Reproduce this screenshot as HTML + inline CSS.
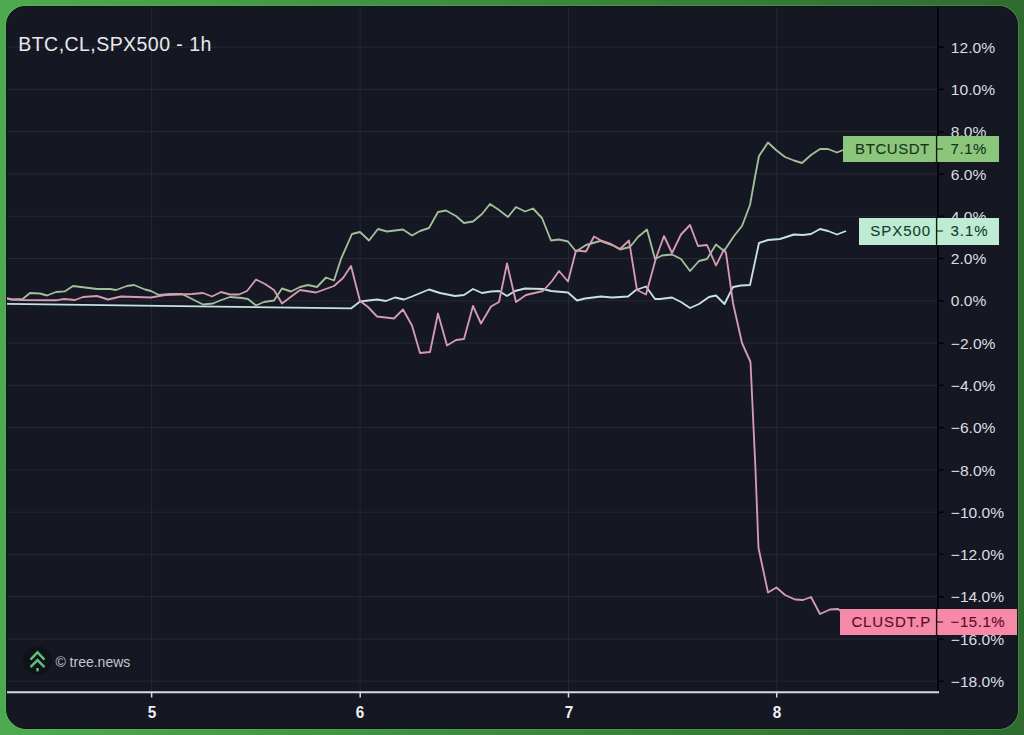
<!DOCTYPE html>
<html><head><meta charset="utf-8"><style>
html,body{margin:0;padding:0;}
body{width:1024px;height:735px;overflow:hidden;position:relative;background:linear-gradient(90deg,#4dab4f 0%,#3d8d3f 45%,#2f6b30 100%);font-family:"Liberation Sans",sans-serif;}
#panel{position:absolute;left:6px;top:6px;width:1012px;height:723px;border-radius:19px 19px 19px 20px;background:#151822;overflow:hidden;box-sizing:border-box;border:1px solid #041a0c;box-shadow:0 0 0 1px rgba(150,170,150,0.28);}
#inner{margin:-1px;}
#inner{position:absolute;left:-6px;top:-6px;width:1024px;height:735px;}
svg{position:absolute;left:0;top:0;}
.title{position:absolute;left:18.3px;top:32.8px;font-size:19.5px;letter-spacing:0.45px;color:#e9e9ee;white-space:nowrap;}
.yl{position:absolute;left:950.8px;height:19px;line-height:19px;font-size:15.6px;color:#dcdde2;white-space:nowrap;transform:scaleY(0.94);}
.xl{position:absolute;top:703.2px;width:40px;text-align:center;font-size:16.6px;font-weight:bold;color:#f0f0f3;transform:scaleX(0.92);}
.tag{position:absolute;height:26px;line-height:26px;font-size:15px;letter-spacing:0.55px;white-space:nowrap;box-sizing:border-box;}
.tl{text-align:right;padding-right:6.5px;-webkit-text-stroke:0.1px currentColor;}
.tr{padding-left:13.3px;-webkit-text-stroke:0.1px currentColor;}
.logo{position:absolute;left:22.5px;top:645.5px;width:29px;height:29px;border-radius:50%;background:#0f1217;}
.wm{position:absolute;left:55.4px;top:654px;font-size:14px;color:#c5c6cc;white-space:nowrap;}
</style></head><body>
<div id="panel"><div id="inner">
<svg width="1024" height="735" viewBox="0 0 1024 735">
<line x1="6" y1="47.2" x2="937" y2="47.2" stroke="#252833" stroke-width="1"/><line x1="6" y1="89.4" x2="937" y2="89.4" stroke="#252833" stroke-width="1"/><line x1="6" y1="131.7" x2="937" y2="131.7" stroke="#252833" stroke-width="1"/><line x1="6" y1="174.0" x2="937" y2="174.0" stroke="#252833" stroke-width="1"/><line x1="6" y1="216.3" x2="937" y2="216.3" stroke="#252833" stroke-width="1"/><line x1="6" y1="258.5" x2="937" y2="258.5" stroke="#252833" stroke-width="1"/><line x1="6" y1="300.8" x2="937" y2="300.8" stroke="#252833" stroke-width="1"/><line x1="6" y1="343.1" x2="937" y2="343.1" stroke="#252833" stroke-width="1"/><line x1="6" y1="385.3" x2="937" y2="385.3" stroke="#252833" stroke-width="1"/><line x1="6" y1="427.6" x2="937" y2="427.6" stroke="#252833" stroke-width="1"/><line x1="6" y1="469.9" x2="937" y2="469.9" stroke="#252833" stroke-width="1"/><line x1="6" y1="512.2" x2="937" y2="512.2" stroke="#252833" stroke-width="1"/><line x1="6" y1="554.4" x2="937" y2="554.4" stroke="#252833" stroke-width="1"/><line x1="6" y1="596.7" x2="937" y2="596.7" stroke="#252833" stroke-width="1"/><line x1="6" y1="639.0" x2="937" y2="639.0" stroke="#252833" stroke-width="1"/><line x1="6" y1="681.2" x2="937" y2="681.2" stroke="#252833" stroke-width="1"/><line x1="151.6" y1="6" x2="151.6" y2="691" stroke="#252833" stroke-width="1"/><line x1="360.2" y1="6" x2="360.2" y2="691" stroke="#252833" stroke-width="1"/><line x1="568.5" y1="6" x2="568.5" y2="691" stroke="#252833" stroke-width="1"/><line x1="776.7" y1="6" x2="776.7" y2="691" stroke="#252833" stroke-width="1"/>
<polyline points="6,303.8 351,308.4 360,301.5 377,299.5 386,301 395,297.5 404,299.5 412,296.5 429,289.5 440,293 455,296 464,295 473,289 482,293 491,291.5 499,291 507,296 515,291 525,288.5 543,289 551,291 568,292.5 577,300.5 585,298.5 601,296.5 612,297.5 628,296.5 636,290 646,286.5 655,299 660,299 672,297.5 681,302 690,308 699,304 709,297 716,295.5 724.5,304 733,287 741,285.5 750,285 759,243 768,240 780,239 794,234.5 803,235 811,234 820,229 828,231 837,234.5 846,231" fill="none" stroke="#c6e2dc" stroke-width="1.85" stroke-linejoin="round"/>
<polyline points="6,298.5 12,299.5 23,298.8 30,293 40,293.5 47,295.5 56,292 65,291.3 73,286 85,287.5 97,289 110,289 116,290 127,286 134,285 145,289.5 151,291 159,295 170,294 182,294 190,298 203,304.5 213,303.5 220,300.5 230,297 242,298 248,299 256,305.5 264,302 274,300.5 282,288.5 291,291.5 300,287 308,285 317,287 326,277.5 334,280.5 341,259 352,234 360,232 369,240.5 378,229 387,231.5 403,229.5 412,235.5 420,231 429,228 438,212 446,210.5 456,216 464,223 473,221.5 482,214 490,204 499,210 508,217 516,207 525,211.5 533,208.5 542,218 551,240.5 559,239.5 568,241.5 576,251.5 586,245 600,241 614,246 620,249.5 630,247 638,237 647,229.5 655,259 662,255.5 672,254.5 681,259 690,271 699,261 707,259 716,244.5 724,251 734,236 742,226 750,205 755,177 759,156 768,142.5 776,150 785,157 794,160.5 802,163 811,155 820,149 828,149 837,152.5 843,150" fill="none" stroke="#a2bf9b" stroke-width="1.85" stroke-linejoin="round"/>
<polyline points="6,298 12,299.5 23,300 57,300.2 64,299 75,300 83,297 97,296 108,299.5 121,296.5 151,297.5 165,295 180,294.5 192,294 203,293 212,296.5 221,292 230,294.5 239,294.5 247,291 256,279.5 265,284 274,290 282,303.5 290,297.5 300,290 316,292.5 334,286 343,278 351,266 360,301 368,307 377,316.5 394,318.5 403,309.5 412,325.5 420,353 430,352 438,313.5 447,345.5 456,340 464,339 473,306 481,323.5 491,306.5 499,302 507,263.5 516,302 526,295 543,291 552,281 559,271 568,281.5 576,250.5 586,251.5 594,236.5 602,241 611,244 620,249 629,240.5 637,290 646,294.5 656,258 664,236 672,253 681,234.5 690,225 698,246 707,245 716,265.5 724,249.5 726,253 733,303 742,343 750.5,362 755.5,470 758.5,548 768,592.5 776.5,587.5 785,595 795,599.5 803,600 811,597 820,614 830,609.5 838,609 842,612" fill="none" stroke="#d69ab5" stroke-width="1.85" stroke-linejoin="round"/>
<line x1="938" y1="0" x2="938" y2="693" stroke="#06070c" stroke-width="2"/>
<line x1="0" y1="692.2" x2="939" y2="692.2" stroke="#d9dadf" stroke-width="2"/>
<line x1="938" y1="47.2" x2="944" y2="47.2" stroke="#020306" stroke-width="1.4"/><line x1="938" y1="89.4" x2="944" y2="89.4" stroke="#020306" stroke-width="1.4"/><line x1="938" y1="131.7" x2="944" y2="131.7" stroke="#020306" stroke-width="1.4"/><line x1="938" y1="174.0" x2="944" y2="174.0" stroke="#020306" stroke-width="1.4"/><line x1="938" y1="216.3" x2="944" y2="216.3" stroke="#020306" stroke-width="1.4"/><line x1="938" y1="258.5" x2="944" y2="258.5" stroke="#020306" stroke-width="1.4"/><line x1="938" y1="300.8" x2="944" y2="300.8" stroke="#020306" stroke-width="1.4"/><line x1="938" y1="343.1" x2="944" y2="343.1" stroke="#020306" stroke-width="1.4"/><line x1="938" y1="385.3" x2="944" y2="385.3" stroke="#020306" stroke-width="1.4"/><line x1="938" y1="427.6" x2="944" y2="427.6" stroke="#020306" stroke-width="1.4"/><line x1="938" y1="469.9" x2="944" y2="469.9" stroke="#020306" stroke-width="1.4"/><line x1="938" y1="512.2" x2="944" y2="512.2" stroke="#020306" stroke-width="1.4"/><line x1="938" y1="554.4" x2="944" y2="554.4" stroke="#020306" stroke-width="1.4"/><line x1="938" y1="596.7" x2="944" y2="596.7" stroke="#020306" stroke-width="1.4"/><line x1="938" y1="639.0" x2="944" y2="639.0" stroke="#020306" stroke-width="1.4"/><line x1="938" y1="681.2" x2="944" y2="681.2" stroke="#020306" stroke-width="1.4"/><line x1="151.6" y1="692" x2="151.6" y2="697.5" stroke="#d8d9de" stroke-width="1.5"/><line x1="360.2" y1="692" x2="360.2" y2="697.5" stroke="#d8d9de" stroke-width="1.5"/><line x1="568.5" y1="692" x2="568.5" y2="697.5" stroke="#d8d9de" stroke-width="1.5"/><line x1="776.7" y1="692" x2="776.7" y2="697.5" stroke="#d8d9de" stroke-width="1.5"/>
</svg>
<div class="title">BTC,CL,SPX500 - 1h</div>
<div class="yl" style="top:37.8px">12.0%</div><div class="yl" style="top:80.0px">10.0%</div><div class="yl" style="top:122.3px">8.0%</div><div class="yl" style="top:164.6px">6.0%</div><div class="yl" style="top:206.9px">4.0%</div><div class="yl" style="top:249.1px">2.0%</div><div class="yl" style="top:291.4px">0.0%</div><div class="yl" style="top:333.7px">−2.0%</div><div class="yl" style="top:375.9px">−4.0%</div><div class="yl" style="top:418.2px">−6.0%</div><div class="yl" style="top:460.5px">−8.0%</div><div class="yl" style="top:502.8px">−10.0%</div><div class="yl" style="top:545.0px">−12.0%</div><div class="yl" style="top:587.3px">−14.0%</div><div class="yl" style="top:629.6px">−16.0%</div><div class="yl" style="top:671.8px">−18.0%</div>
<div class="xl" style="left:131.6px">5</div><div class="xl" style="left:340.2px">6</div><div class="xl" style="left:548.5px">7</div><div class="xl" style="left:756.7px">8</div>
<div class="tag tl" style="left:843px;top:136px;width:93.3px;background:#8cc67d;color:#123516;">BTCUSDT</div>
<div class="tag tr" style="left:937.3px;top:136px;width:61.8px;background:#8cc67d;color:#123516;">7.1%</div>
<div class="tag tl" style="left:858.8px;top:218.2px;width:77.5px;height:26.5px;line-height:26.5px;background:#bdebd3;color:#183a2a;letter-spacing:0.98px;padding-right:5.2px;">SPX500</div>
<div class="tag tr" style="left:937.3px;top:218.2px;width:61.8px;height:26.5px;line-height:26.5px;background:#bdebd3;color:#183a2a;letter-spacing:0.9px;">3.1%</div>
<div class="tag tl" style="left:839.8px;top:609px;width:96.5px;background:#f589a7;color:#5a0c24;letter-spacing:0.9px;padding-right:5.2px;">CLUSDT.P</div>
<div class="tag tr" style="left:937.3px;top:609px;width:80.7px;background:#f589a7;color:#5a0c24;">−15.1%</div>
<svg width="1024" height="735" viewBox="0 0 1024 735" style="pointer-events:none">
<line x1="936.6" y1="136" x2="936.6" y2="162" stroke="#0e1a0e" stroke-width="1.4"/>
<line x1="937" y1="149" x2="943" y2="149" stroke="#0e1a0e" stroke-width="1.2"/>
<line x1="936.6" y1="218" x2="936.6" y2="244" stroke="#0e1a0e" stroke-width="1.4"/>
<line x1="937" y1="231" x2="943" y2="231" stroke="#0e1a0e" stroke-width="1.2"/>
<line x1="936.6" y1="609" x2="936.6" y2="635" stroke="#1a0a10" stroke-width="1.4"/>
<line x1="937" y1="622" x2="943" y2="622" stroke="#1a0a10" stroke-width="1.2"/>
</svg>
<div class="logo"></div>
<svg width="1024" height="735" viewBox="0 0 1024 735">
<polyline points="31.2,658.9 37.5,652.3 43.8,658.9" fill="none" stroke="#60bb7c" stroke-width="2.5" stroke-linecap="round"/>
<polyline points="31.2,666.4 37.5,660 43.8,666.4" fill="none" stroke="#60bb7c" stroke-width="2.5" stroke-linecap="round"/>
<rect x="36.3" y="668" width="2.4" height="3.4" fill="#6cc086"/>
</svg>
<div class="wm">© tree.news</div>
</div></div>
</body></html>
